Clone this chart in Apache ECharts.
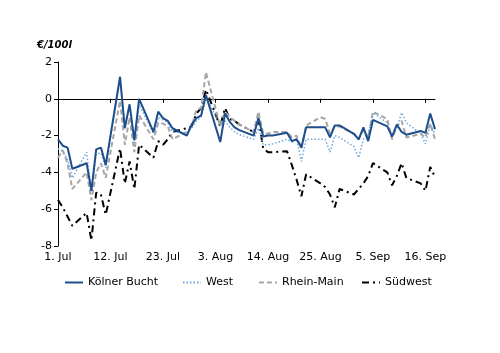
<!DOCTYPE html>
<html>
<head>
<meta charset="utf-8">
<script src="https://cdn.jsdelivr.net/npm/echarts@6/dist/echarts.min.js"></script>
<style>
html,body{margin:0;padding:0;background:#fff;}
#c{width:500px;height:353px;}
</style>
</head>
<body>
<div id="c"></div>
<script>
// Business-day offsets from 1 Jul (2025), up to 18 Sep
const dayOffsets = [0,1,2,3,6,7,8,9,10,13,14,15,16,17,20,21,22,23,24,27,28,29,30,31,
  34,35,36,37,38,41,42,43,44,45,48,49,50,51,52,55,56,57,58,59,62,63,64,65,66,69,70,71,72,73,76,77,78,79];
const totalDays = 80;
const tickLabels = ['1. Jul','12. Jul','23. Jul','3. Aug','14. Aug','25. Aug','5. Sep','16. Sep'];

const koelnerBucht = [-2.2,-2.55,-2.65,-3.8,-3.5,-5.0,-2.75,-2.65,-3.6,
  1.2,-1.6,-0.3,-2.25,0.0,-1.8,-0.7,-1.05,-1.2,-1.6,
  -2.0,-1.4,-1.05,-0.9,0.2,
  -2.35,-0.8,-1.25,-1.55,-1.7,
  -2.0,-1.05,-2.05,-2.0,-2.0,
  -1.85,-2.3,-2.2,-2.65,-1.55,
  -1.55,-1.55,-2.1,-1.45,-1.45,
  -1.9,-2.2,-1.55,-2.3,-1.15,
  -1.5,-2.05,-1.4,-1.8,-1.95,
  -1.75,-1.85,-0.8,-1.65];
const west = [-2.7,-2.85,-3.3,-4.3,-2.9,-5.05,-3.0,-2.95,-3.75,
  1.1,-1.5,-0.4,-2.4,-0.3,-1.9,-1.0,-1.15,-1.3,-1.8,
  -1.85,-1.6,-1.2,-1.0,0.05,
  -1.4,-1.2,-1.55,-1.8,-1.95,
  -2.2,-1.6,-2.5,-2.5,-2.45,
  -2.2,-2.35,-2.2,-3.4,-2.2,
  -2.2,-2.2,-2.9,-2.0,-2.1,
  -2.6,-3.2,-2.2,-2.0,-0.75,
  -1.3,-2.0,-1.6,-0.75,-1.3,
  -1.9,-2.45,-1.4,-1.9];
const rheinMain = [-3.2,-2.8,-3.5,-4.9,-4.0,-5.5,-4.0,-3.5,-4.3,
  -0.1,-2.5,-1.0,-2.9,-0.9,-2.2,-1.3,-1.35,-1.5,-2.2,
  -1.8,-1.5,-0.6,-0.5,1.45,
  -1.5,-0.7,-1.0,-1.2,-1.4,
  -1.8,-0.7,-1.9,-1.9,-1.8,
  -1.8,-2.1,-2.0,-2.7,-1.45,
  -1.0,-1.1,-1.9,-1.5,-1.5,
  -1.9,-2.2,-1.7,-2.1,-0.7,
  -1.1,-2.2,-1.5,-1.2,-2.1,
  -1.9,-2.1,-1.35,-2.2];
const suedwest = [-5.5,-5.9,-6.4,-6.9,-6.2,-7.7,-5.1,-5.2,-6.3,
  -2.7,-4.6,-3.4,-4.9,-2.5,-3.2,-2.3,-2.5,-2.2,-1.8,
  -1.6,-1.5,-0.8,-0.5,0.5,
  -1.5,-0.5,-1.1,-1.2,-1.4,
  -1.8,-1.1,-2.7,-2.9,-2.9,
  -2.85,-3.6,-4.4,-5.3,-4.1,
  -4.6,-4.8,-5.2,-5.9,-4.9,
  -5.2,-4.9,-4.6,-4.2,-3.5,
  -4.0,-4.7,-4.2,-3.5,-4.3,
  -4.6,-5.0,-3.7,-4.25];

const seriesNames = ['Kölner Bucht','West','Rhein-Main','Südwest'];

function toDaily(vals){
  const out = new Array(totalDays).fill(null);
  dayOffsets.forEach((d,i)=>{ out[d] = vals[i]; });
  return out;
}
const cats = [];
for (let i=0;i<totalDays;i++) cats.push(String(i));

const FONT = 'DejaVu Sans';
const chart = echarts.init(document.getElementById('c'), null, {renderer:'canvas'});

function legendAt(name, left){
  return {
    data:[name], left:left, top:277, padding:0, itemWidth:18, itemHeight:12, itemGap:0,
    itemStyle:{opacity:0, borderWidth:0},
    textStyle:{fontFamily:FONT, fontSize:11, color:'#000'},
    selectedMode:false
  };
}

chart.setOption({
  animation:false,
  backgroundColor:'#fff',
  title:{
    text:'€/100l', left:37, top:40, padding:0,
    textStyle:{fontFamily:FONT, fontSize:10, fontWeight:'bold', fontStyle:'italic', color:'#000'}
  },
  legend:[legendAt(seriesNames[0],64),legendAt(seriesNames[1],182),legendAt(seriesNames[2],258),legendAt(seriesNames[3],361)],
  grid:{left:58, right:65, top:62, bottom:107},
  xAxis:[{
    type:'category', data:cats, boundaryGap:false, position:'bottom',
    axisLine:{show:false, onZero:false},
    axisTick:{show:false},
    axisLabel:{interval:10, margin:6, fontFamily:FONT, fontSize:11, color:'#000',
      formatter:(v,idx)=> tickLabels[Math.round(idx/11)] || ''}
  },{
    type:'category', data:cats, boundaryGap:false, position:'bottom',
    axisLine:{show:true, onZero:true, lineStyle:{color:'#000', width:1}},
    axisTick:{show:true, interval:10, length:4, lineStyle:{color:'#000'}},
    axisLabel:{show:false}
  }],
  yAxis:{
    type:'value', min:-8, max:2, interval:2,
    axisLine:{show:true, onZero:false, lineStyle:{color:'#000'}},
    axisTick:{show:true, length:4, lineStyle:{color:'#000'}},
    splitLine:{show:false},
    axisLabel:{margin:6, fontFamily:FONT, fontSize:11, color:'#000'}
  },
  series:[
    {name:seriesNames[0], type:'line', data:toDaily(koelnerBucht), connectNulls:true, symbol:'none', z:5,
      lineStyle:{color:'#1F4E8C', width:2}, itemStyle:{color:'#1F4E8C'}},
    {name:seriesNames[1], type:'line', data:toDaily(west), connectNulls:true, symbol:'none', z:4,
      lineStyle:{color:'#6FA8DC', width:1.5, type:[1.5,2]}, itemStyle:{color:'#6FA8DC'}},
    {name:seriesNames[2], type:'line', data:toDaily(rheinMain), connectNulls:true, symbol:'none', z:3,
      lineStyle:{color:'#A6A6A6', width:2, type:[5,3]}, itemStyle:{color:'#A6A6A6'}},
    {name:seriesNames[3], type:'line', data:toDaily(suedwest), connectNulls:true, symbol:'none', z:2,
      lineStyle:{color:'#000', width:2, type:[7,4,2,4]}, itemStyle:{color:'#000'}}
  ]
});
</script>
</body>
</html>
